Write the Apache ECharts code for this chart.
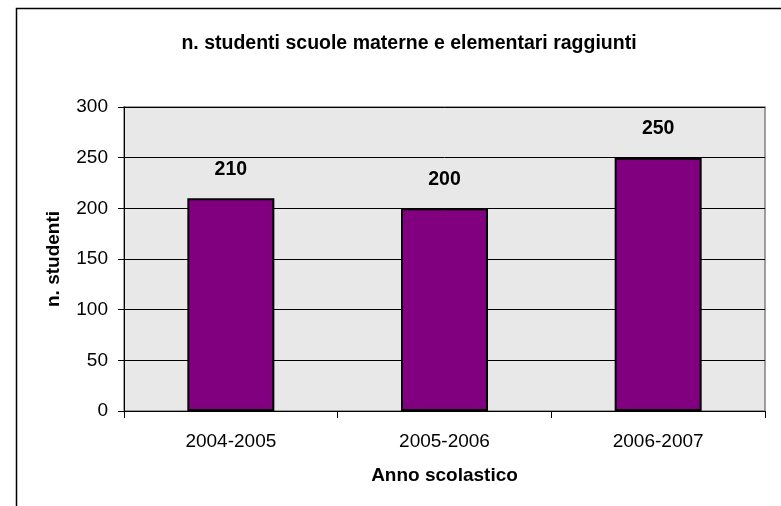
<!DOCTYPE html>
<html>
<head>
<meta charset="utf-8">
<script src="https://cdn.jsdelivr.net/npm/echarts@6/dist/echarts.min.js"></script>
<style>
    html, body { margin: 0; padding: 0; background: #fff; }
    #chart { width: 781px; height: 506px; }
</style>
</head>
<body>
<div id="chart"></div>
<script>
    // dati
    const anni = ['2004-2005', '2005-2006', '2006-2007'];
    const studenti = [210, 200, 250];
    const yTicks = [0, 50, 100, 150, 200, 250, 300];

    const chart = echarts.init(document.getElementById('chart'));
    const font = 'Liberation Sans, Arial, sans-serif';

    let option = {
        animation: false,
        textStyle: { fontFamily: font },
        title: {
            text: 'n. studenti scuole materne e elementari raggiunti',
            left: 404,
            textAlign: 'center',
            top: 29,
            textStyle: { fontSize: 19.5, fontWeight: 'bold', color: '#000', fontFamily: font }
        },
        graphic: [{
            type: 'rect',
            shape: { x: 16.5, y: 8.5, width: 800, height: 600 },
            style: { fill: 'none', stroke: '#000', lineWidth: 1.5 },
            silent: true
        }],
        grid: {
            left: 124,
            top: 107,
            right: 16,
            bottom: 95,
            show: true,
            backgroundColor: '#e8e8e8',
            borderColor: '#808080',
            borderWidth: 1.5
        },
        xAxis: {
            type: 'category',
            data: anni,
            name: 'Anno scolastico',
            nameLocation: 'middle',
            nameGap: 55,
            nameTextStyle: { fontSize: 19, fontWeight: 'bold', color: '#000' },
            axisLine: { lineStyle: { color: '#000', width: 1 } },
            axisTick: { show: true, alignWithLabel: false, length: 7, lineStyle: { color: '#000' } },
            axisLabel: { fontSize: 19, color: '#000', margin: 21 }
        },
        yAxis: {
            type: 'value',
            min: yTicks[0],
            max: yTicks[yTicks.length - 1],
            interval: 50,
            name: 'n. studenti',
            nameLocation: 'middle',
            nameGap: 61,
            nameTextStyle: { fontSize: 19, fontWeight: 'bold', color: '#000' },
            axisLine: { show: true, lineStyle: { color: '#000', width: 1 } },
            axisTick: { show: true, length: 6, lineStyle: { color: '#000' } },
            axisLabel: { fontSize: 19, color: '#000', margin: 16 },
            splitLine: { show: true, lineStyle: { color: '#000', width: 1 } }
        },
        series: [{
            type: 'bar',
            data: studenti,
            barWidth: 87,
            itemStyle: { color: '#800080', borderColor: '#000', borderWidth: 2 },
            label: {
                show: true,
                position: 'top',
                distance: 19,
                fontSize: 19.5,
                fontWeight: 'bold',
                color: '#000'
            }
        }]
    };
    chart.setOption(option);
</script>
</body>
</html>
